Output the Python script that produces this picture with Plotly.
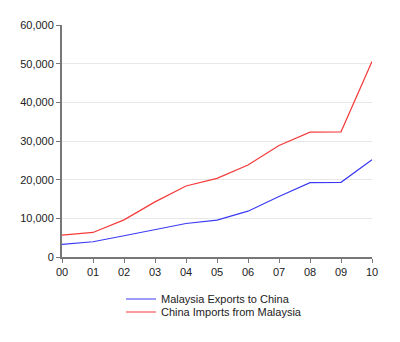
import plotly.graph_objects as go

years = ["00", "01", "02", "03", "04", "05", "06", "07", "08", "09", "10"]
malaysia_exports_to_china = [3270, 3950, 5500, 7040, 8670, 9530, 11850, 15630, 19240, 19310, 25160]
china_imports_from_malaysia = [5660, 6350, 9600, 14250, 18360, 20350, 23770, 28840, 32270, 32370, 50550]
y_ticks = [0, 10000, 20000, 30000, 40000, 50000, 60000]

fig = go.Figure()
fig.add_trace(go.Scatter(
    x=years, y=malaysia_exports_to_china, mode="lines",
    name="Malaysia Exports to China",
    line=dict(color="#3a3af5", width=1.2),
    legend="legend",
))
fig.add_trace(go.Scatter(
    x=years, y=china_imports_from_malaysia, mode="lines",
    name="China Imports from Malaysia",
    line=dict(color="#f53a3a", width=1.2),
    legend="legend2",
))

text_font = dict(family="Liberation Sans, Arial, sans-serif", size=11, color="#222222")

# Two compact legends stacked closely under the plot
legend_common = dict(
    xref="container", yref="container", xanchor="left", yanchor="middle",
    font=text_font, itemwidth=30, bgcolor="rgba(0,0,0,0)", borderwidth=0,
)

fig.update_layout(
    width=400, height=342,
    margin=dict(l=62, r=28, t=25, b=85, autoexpand=False),
    paper_bgcolor="white", plot_bgcolor="white",
    font=text_font,
    showlegend=True,
    legend=dict(x=121 / 400, y=1 - 299 / 342, **legend_common),
    legend2=dict(x=121 / 400, y=1 - 312 / 342, **legend_common),
    xaxis=dict(
        type="category", range=[0, 10],
        showline=True, linecolor="#777777", linewidth=2,
        ticks="outside", ticklen=4, tickcolor="#777777", tickwidth=1,
        showgrid=False, zeroline=False, tickfont=text_font,
    ),
    yaxis=dict(
        range=[0, 60000], tickvals=y_ticks, tickformat=",",
        showline=True, linecolor="#777777", linewidth=2,
        ticks="outside", ticklen=4, tickcolor="#777777", tickwidth=1,
        showgrid=True, gridcolor="#e8e8e8", gridwidth=1,
        zeroline=False, tickfont=text_font,
    ),
)

fig.write_html("out.html")
